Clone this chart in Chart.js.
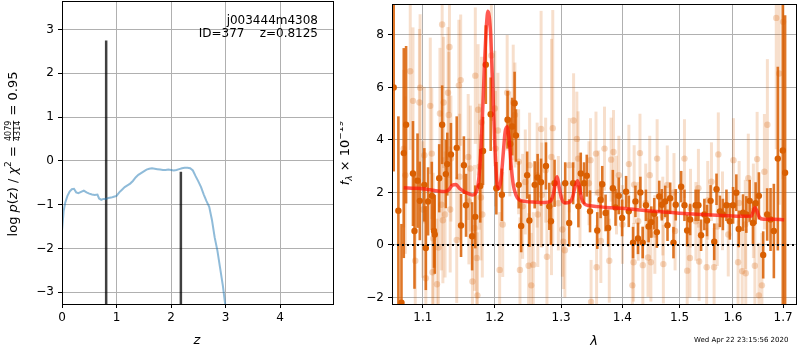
<!DOCTYPE html>
<html>
<head>
<meta charset="utf-8">
<script src="https://cdn.jsdelivr.net/npm/chart.js@4.4.0/dist/chart.umd.min.js"></script>
<style>
  html, body { margin: 0; padding: 0; background: #fff; }
  #wrap { position: relative; width: 800px; height: 350px; }
  #pz { position: absolute; left: 0; top: 0; }
  #sp { position: absolute; left: 340px; top: 0; }
</style>
</head>
<body>
<div id="wrap">
  <canvas id="pz" width="340" height="350"></canvas>
  <canvas id="sp" width="460" height="350"></canvas>
</div>
<script>
// left panel: log p(z)
const zGrid = [0, 0.03, 0.06, 0.1, 0.14, 0.18, 0.22, 0.26, 0.3, 0.35, 0.4, 0.45, 0.5, 0.55, 0.6, 0.65, 0.68, 0.72, 0.76, 0.8,
  0.85, 0.9, 0.95, 1.0, 1.05, 1.1, 1.15, 1.2, 1.25, 1.3, 1.35, 1.4, 1.45, 1.5, 1.55, 1.6, 1.65, 1.7, 1.75, 1.8,
  1.85, 1.9, 1.95, 2.0, 2.05, 2.1, 2.15, 2.2, 2.25, 2.3, 2.35, 2.4, 2.45, 2.5, 2.55, 2.6, 2.65, 2.7, 2.75, 2.8,
  2.85, 2.9, 2.95, 3.0];
const logPz = [-1.6, -1.15, -0.95, -0.8, -0.7, -0.65, -0.64, -0.72, -0.74, -0.71, -0.68, -0.72, -0.75, -0.77, -0.78, -0.77, -0.86, -0.89, -0.87, -0.87,
  -0.85, -0.84, -0.82, -0.8, -0.72, -0.66, -0.6, -0.56, -0.52, -0.46, -0.38, -0.32, -0.28, -0.24, -0.2, -0.18, -0.17, -0.18, -0.19, -0.2,
  -0.21, -0.21, -0.2, -0.21, -0.22, -0.21, -0.19, -0.17, -0.16, -0.16, -0.17, -0.22, -0.35, -0.47, -0.6, -0.77, -0.92, -1.05, -1.35, -1.75,
  -2.05, -2.45, -2.85, -3.35];
const zPeaks = [0.81, 2.18];
const zPeakTops = [2.75, -0.25];
const pzXTicks = [0, 1, 2, 3, 4];
const pzYTicks = [-3, -2, -1, 0, 1, 2, 3];

// right panel: spectrum (wavelength in micron, flux in 1e-19)
const darkWave = [1.062, 1.068, 1.072, 1.075, 1.078, 1.087, 1.089, 1.093, 1.096, 1.102, 1.104, 1.107, 1.112, 1.115, 1.116, 1.122, 1.126, 1.131, 1.133, 1.138,
  1.146, 1.152, 1.156, 1.159, 1.1675, 1.172, 1.179, 1.183, 1.187, 1.194, 1.2022, 1.2103, 1.2186, 1.2226, 1.2255, 1.229, 1.231, 1.2352, 1.2388, 1.2478,
  1.2512, 1.2592, 1.2637, 1.2689, 1.2765, 1.2816, 1.2842, 1.2898, 1.3065, 1.3128, 1.3191, 1.3275, 1.3313, 1.3366, 1.341, 1.3463, 1.3581, 1.3636, 1.3663, 1.3718,
  1.3761, 1.3839, 1.3884, 1.3939, 1.3995, 1.4062, 1.4108, 1.4181, 1.4222, 1.4266, 1.4307, 1.4347, 1.4404, 1.445, 1.4497, 1.4549, 1.4595, 1.4637, 1.4683, 1.4743,
  1.4784, 1.4832, 1.4891, 1.4932, 1.503, 1.509, 1.5139, 1.5193, 1.5296, 1.5346, 1.5396, 1.5457, 1.5507, 1.5574, 1.5643, 1.5686, 1.575, 1.5807, 1.5875, 1.594,
  1.6003, 1.6066, 1.6113, 1.6196, 1.6261, 1.6327, 1.6392, 1.6445, 1.651, 1.6596, 1.6676, 1.6744, 1.6811, 1.6892, 1.6994, 1.7041];
const darkFlux = [6.0, 1.3, -2.2, 3.5, 4.58, 2.72, 0.53, 2.45, 1.68, 2.29, -0.12, 1.66, 1.87, 0.53, 0.4, 2.54, 4.58, 2.7, 3.08, 3.45,
  3.7, 0.74, 3.04, 1.51, 0.33, 1.07, 2.25, 3.58, 6.87, 4.98, 2.16, 1.91, 4.77, 3.85, 4.51, 5.4, 4.17, 2.29, 0.72, 2.66,
  0.93, 2.29, 2.57, 2.39, 3.01, 1.47, 0.9, 2.35, 2.35, 0.84, 2.35, 1.47, 2.72, 2.35, 2.64, 1.28, 0.55, 1.72, 2.31, 1.22,
  0.65, 2.16, 1.43, 1.87, 1.03, 2.03, 1.28, 0.09, 1.66, 0.25, 2.0, 0.09, 1.51, 0.7, 0.87, 1.19, 0.49, 1.85, 1.53, 1.66,
  0.75, 1.78, 0.09, 1.53, 2.22, 1.51, 0.55, 0.97, 1.51, 1.51, 0.37, 1.16, 0.93, 1.68, 0.12, 2.12, 1.28, 1.16, 1.51, 0.9,
  1.51, 1.99, 0.61, 1.23, 1.16, 1.68, 0.84, 1.59, 1.87, -0.38, 1.16, 0.97, 0.53, 3.29, 3.6, 2.75];
const darkErr = [3.2, 3.6, 3.0, 4.0, 3.0, 2.0, 2.2, 1.8, 1.5, 1.4, 1.6, 1.3, 1.3, 1.4, 1.5, 1.3, 1.5, 1.3, 1.2, 1.2,
  1.2, 1.2, 1.1, 1.2, 1.3, 1.2, 1.4, 1.3, 1.5, 1.4, 1.0, 1.0, 1.1, 1.0, 1.1, 1.2, 1.0, 0.9, 1.0, 0.9,
  1.0, 0.9, 0.9, 0.9, 0.9, 0.9, 0.9, 0.9, 0.8, 0.9, 0.8, 0.8, 0.8, 0.8, 0.8, 0.8, 0.7, 0.7, 0.7, 0.7,
  0.7, 0.7, 0.7, 0.7, 0.7, 0.6, 0.6, 0.6, 0.6, 0.6, 0.6, 0.6, 0.6, 0.6, 0.6, 0.6, 0.6, 0.6, 0.6, 0.6,
  0.6, 0.6, 0.6, 0.6, 0.6, 0.6, 0.6, 0.6, 0.6, 0.6, 0.6, 0.6, 0.6, 0.6, 0.7, 0.6, 0.6, 0.6, 0.6, 0.7,
  0.7, 0.7, 0.7, 0.7, 0.7, 0.8, 0.8, 0.8, 0.9, 0.9, 1.0, 1.2, 1.8, 3.5, 6.5, 6.0];

const lightWave = [1.075, 1.077, 1.0834, 1.087, 1.09, 1.0955, 1.0964, 1.1, 1.102, 1.104, 1.11, 1.112, 1.113, 1.114, 1.119, 1.121, 1.123, 1.125, 1.126, 1.127,
  1.128, 1.13, 1.134, 1.135, 1.136, 1.137, 1.138, 1.146, 1.149, 1.15, 1.1515, 1.162, 1.163, 1.165, 1.168, 1.171, 1.172, 1.174, 1.175, 1.176,
  1.178, 1.18, 1.181, 1.182, 1.195, 1.2, 1.201, 1.2045, 1.207, 1.2115, 1.218, 1.222, 1.227, 1.2295, 1.235, 1.237, 1.241, 1.245, 1.25, 1.2515,
  1.254, 1.257, 1.263, 1.264, 1.269, 1.27, 1.276, 1.278, 1.285, 1.287, 1.2957, 1.302, 1.3036, 1.306, 1.313, 1.3198, 1.325, 1.327, 1.33, 1.3445,
  1.347, 1.348, 1.356, 1.357, 1.36, 1.364, 1.37, 1.378, 1.381, 1.385, 1.39, 1.394, 1.4, 1.411, 1.417, 1.419, 1.42, 1.427, 1.43, 1.435,
  1.44, 1.444, 1.447, 1.449, 1.456, 1.46, 1.47, 1.471, 1.478, 1.49, 1.492, 1.509, 1.514, 1.519, 1.52, 1.53, 1.5346, 1.536, 1.55, 1.552,
  1.559, 1.564, 1.57, 1.572, 1.58, 1.591, 1.601, 1.61, 1.612, 1.618, 1.624, 1.625, 1.63, 1.64, 1.643, 1.6475, 1.651, 1.657, 1.662, 1.668,
  1.686, 1.692, 1.7];
const lightFlux = [3.67, 2.66, 6.62, 5.49, -0.6, 5.43, 5.99, 1.35, 3.42, -1.27, 5.3, 3.48, -1.04, 0.25, -1.5, -0.1, 5.01, 1.53, 8.4, 0.94,
  5.43, 1.16, 5.8, 4.95, 7.54, 1.35, 3.29, 0.19, 6.08, 2.6, 6.28, 3.35, 1.66, 2.91, -1.39, 0.65, 6.45, -0.5, -1.92, 5.15,
  2.98, 1.81, 4.67, 1.16, 7.22, 5.2, 3.67, 4.36, -0.95, 0.78, 5.8, 3.85, 5.43, 4.95, 3.17, -0.95, 1.47, 2.4, -0.79, 3.04,
  -1.54, -0.75, 2.66, 1.16, 4.42, 1.9, 2.85, -0.45, 3.35, 4.45, 1.59, 0.59, 0.12, -0.2, 3.04, 4.74, 4.04, 3.29, 1.7, 2.35,
  3.23, -2.17, 3.48, -0.85, 2.0, 0.15, 3.67, -0.6, 3.25, 3.54, 1.9, 2.66, 0.78, 3.08, -1.54, -0.66, 2.3, 0.9, 3.5, -0.77,
  1.6, -0.48, 2.66, -0.66, 0.4, 3.29, 1.1, -0.73, 2.29, 2.0, 0.53, 3.29, -0.98, -0.5, 1.4, 0.9, 2.16, -0.63, -0.85, 1.7,
  2.41, -0.85, 0.7, 3.45, 1.3, 0.4, 3.23, -0.66, 1.6, -1.0, 0.78, -1.08, 2.54, 1.3, -0.79, 3.27, -1.92, -1.54, 2.79, 4.58,
  8.65, 6.53, 8.5];
const lightErr = [3.0, 3.0, 3.0, 2.8, 2.8, 2.8, 2.8, 2.6, 2.6, 2.6, 2.6, 2.5, 2.5, 2.5, 2.5, 2.5, 2.5, 2.5, 2.5, 2.4,
  2.5, 2.4, 2.5, 2.4, 2.5, 2.4, 2.4, 2.4, 2.5, 2.4, 2.5, 2.4, 2.4, 2.4, 2.4, 2.4, 2.6, 2.4, 2.4, 2.5,
  2.4, 2.4, 2.5, 2.4, 2.5, 2.2, 2.2, 2.2, 2.2, 2.0, 2.2, 2.0, 2.2, 2.0, 2.0, 2.0, 2.0, 2.0, 2.0, 2.0,
  2.0, 2.0, 2.0, 2.0, 4.5, 2.0, 2.0, 2.0, 4.5, 4.5, 1.8, 1.8, 1.8, 1.8, 1.8, 1.8, 1.8, 1.8, 1.8, 1.6,
  1.6, 1.6, 1.6, 1.6, 1.6, 1.6, 1.6, 1.6, 1.6, 1.6, 1.5, 1.5, 1.5, 1.5, 1.5, 1.5, 1.5, 1.5, 1.5, 1.5,
  1.5, 1.5, 1.5, 1.5, 1.5, 1.5, 1.5, 1.5, 1.5, 1.5, 1.5, 1.5, 1.5, 1.5, 1.5, 1.5, 1.5, 1.5, 1.5, 1.5,
  1.5, 1.5, 1.5, 1.6, 1.5, 1.6, 1.6, 1.6, 1.6, 1.7, 1.7, 1.7, 1.7, 1.8, 1.8, 1.8, 2.0, 2.0, 2.2, 2.5,
  5.0, 5.0, 6.0];

const modelWave = [1.075, 1.09, 1.1, 1.11, 1.12, 1.13, 1.135, 1.14, 1.145, 1.15, 1.157, 1.163, 1.168, 1.172, 1.176, 1.179, 1.182, 1.185, 1.188, 1.19,
  1.192, 1.194, 1.197, 1.2, 1.203, 1.206, 1.209, 1.212, 1.215, 1.218, 1.221, 1.224, 1.227, 1.231, 1.236, 1.245, 1.26, 1.275, 1.283, 1.288,
  1.292, 1.294, 1.297, 1.301, 1.306, 1.313, 1.318, 1.322, 1.326, 1.329, 1.333, 1.338, 1.345, 1.36, 1.38, 1.4, 1.43, 1.46, 1.5, 1.54,
  1.58, 1.62, 1.636, 1.64, 1.643, 1.647, 1.652, 1.66, 1.68, 1.702];
const modelFlux = [2.18, 2.16, 2.14, 2.1, 2.06, 2.04, 2.1, 2.28, 2.3, 2.15, 2.02, 1.95, 1.9, 1.95, 2.3, 3.2, 4.8, 6.8, 8.4, 8.9,
  8.7, 8.0, 6.0, 3.8, 2.4, 2.15, 2.5, 3.4, 4.3, 4.5, 4.0, 3.0, 2.3, 1.9, 1.72, 1.66, 1.63, 1.62, 1.66, 1.95,
  2.5, 2.6, 2.2, 1.75, 1.6, 1.62, 1.8, 2.2, 2.45, 2.2, 1.75, 1.55, 1.5, 1.46, 1.42, 1.4, 1.33, 1.27, 1.21, 1.16,
  1.12, 1.09, 1.1, 1.3, 1.43, 1.3, 1.05, 0.98, 0.98, 0.96];

const spXTicks = [1.1, 1.2, 1.3, 1.4, 1.5, 1.6, 1.7];
const spYTicks = [-2, 0, 2, 4, 6, 8];

const FONT = 'DejaVu Sans';
const GRID = '#b0b0b0';

function pts(xs, ys) {
  return xs.map((x, i) => ({x: x, y: ys[i]}));
}

// fixed tick positions like matplotlib
function fixTicks(list) {
  return function (scale) {
    scale.ticks = list.map(v => ({value: v}));
  };
}

// keep the plot box where it is: no extra room for the edge labels
function noPad(size, dim) {
  return function (s) {
    s[dim] = size;
    s.paddingTop = 0;
    s.paddingBottom = 0;
    s.paddingLeft = 0;
    s.paddingRight = 0;
  };
}

function fmtMinus(v, digits) {
  const s = digits ? v.toFixed(digits) : String(v);
  return s.replace('-', '\u2212');
}

// error bars drawn right before their dataset
const errorBars = {
  id: 'errorBars',
  beforeDatasetDraw(chart, args) {
    const ds = chart.data.datasets[args.index];
    if (!ds.errors) return;
    const ctx = chart.ctx, a = chart.chartArea;
    const xs = chart.scales.x, ys = chart.scales.y;
    ctx.save();
    ctx.beginPath();
    ctx.rect(a.left, a.top, a.right - a.left, a.bottom - a.top);
    ctx.clip();
    ctx.strokeStyle = ds.errorColor;
    ctx.lineWidth = ds.errorWidth;
    ds.data.forEach((p, i) => {
      const px = xs.getPixelForValue(p.x);
      ctx.beginPath();
      ctx.moveTo(px, ys.getPixelForValue(p.y - ds.errors[i]));
      ctx.lineTo(px, ys.getPixelForValue(p.y + ds.errors[i]));
      ctx.stroke();
    });
    ctx.restore();
  }
};

// black frame around the axes and hand-made labels
const frame = {
  id: 'frame',
  afterDraw(chart, args, opts) {
    const ctx = chart.ctx, a = chart.chartArea;
    ctx.save();
    ctx.strokeStyle = '#000';
    ctx.lineWidth = 1;
    ctx.strokeRect(Math.round(a.left) + 0.5, Math.round(a.top) + 0.5, Math.round(a.right - a.left), Math.round(a.bottom - a.top));
    ctx.fillStyle = '#000';
    if (opts.draw) opts.draw(ctx, a);
    ctx.restore();
  }
};

// draws a run of text pieces; each piece {t, size, italic, dy}
function drawRun(ctx, pieces, x, y, align) {
  let total = 0;
  pieces.forEach(p => {
    ctx.font = (p.italic ? 'italic ' : '') + p.size + 'px "' + FONT + '"';
    p.w = p.frac ? Math.max(ctx.measureText(p.num).width, ctx.measureText(p.den).width) + 2 : ctx.measureText(p.t).width;
    total += p.w;
  });
  let cx = align === 'center' ? x - total / 2 : x;
  pieces.forEach(p => {
    ctx.font = (p.italic ? 'italic ' : '') + p.size + 'px "' + FONT + '"';
    if (p.frac) {
      ctx.textAlign = 'center';
      ctx.fillText(p.num, cx + p.w / 2, y - 6);
      ctx.fillText(p.den, cx + p.w / 2, y + 3);
      ctx.fillRect(cx + 1, y - 4, p.w - 2, 0.8);
      ctx.textAlign = 'left';
    } else {
      ctx.textAlign = 'left';
      ctx.fillText(p.t, cx, y + (p.dy || 0));
    }
    cx += p.w;
  });
}

const tickFont = {family: FONT, size: 12};

new Chart(document.getElementById('pz').getContext('2d'), {
  type: 'scatter',
  data: {
    datasets: [
      {
        data: pts(zGrid, logPz),
        showLine: true,
        borderColor: 'rgba(31,119,180,0.5)',
        borderWidth: 2,
        pointRadius: 0,
        tension: 0
      },
      ...zPeaks.map((z, i) => ({
        data: [{x: z, y: -5}, {x: z, y: zPeakTops[i]}],
        showLine: true,
        borderColor: 'rgba(0,0,0,0.75)',
        borderWidth: 2.5,
        pointRadius: 0
      }))
    ]
  },
  options: {
    responsive: false,
    animation: false,
    layout: {padding: {top: 1, right: 7, left: 0, bottom: 0}},
    plugins: {
      legend: {display: false},
      tooltip: {enabled: false},
      frame: {
        draw(ctx, a) {
          ctx.textBaseline = 'alphabetic';
          ctx.font = '12px "' + FONT + '"';
          ctx.textAlign = 'right';
          ctx.fillText('j003444m4308', 318, 24);
          ctx.fillText('ID=377    z=0.8125', 318, 37);
          ctx.textAlign = 'center';
          ctx.font = 'italic 13px "' + FONT + '"';
          ctx.fillText('z', 197, 344);
          ctx.save();
          ctx.translate(17, 154);
          ctx.rotate(-Math.PI / 2);
          drawRun(ctx, [
            {t: 'log ', size: 13},
            {t: 'p', size: 13, italic: true},
            {t: '(', size: 13},
            {t: 'z', size: 13, italic: true},
            {t: ') / ', size: 13},
            {t: '\u03c7', size: 13, italic: true},
            {t: '2', size: 9, dy: -6},
            {t: ' = ', size: 13},
            {frac: true, num: '4079', den: '4314', size: 8},
            {t: ' = 0.95', size: 13}
          ], 0, 0, 'center');
          ctx.restore();
        }
      }
    },
    scales: {
      x: {
        type: 'linear',
        min: 0,
        max: 4.97,
        afterBuildTicks: fixTicks(pzXTicks),
        afterFit: noPad(46, 'height'),
        grid: {color: GRID, lineWidth: 1, tickColor: '#000', tickLength: 4},
        border: {display: false},
        ticks: {font: tickFont, color: '#000', padding: 3, maxRotation: 0, callback: v => fmtMinus(v)}
      },
      y: {
        type: 'linear',
        min: -3.27,
        max: 3.65,
        afterBuildTicks: fixTicks(pzYTicks),
        afterFit: noPad(62, 'width'),
        grid: {color: GRID, lineWidth: 1, tickColor: '#000', tickLength: 4},
        border: {display: false},
        ticks: {font: tickFont, color: '#000', padding: 4, callback: v => fmtMinus(v)}
      }
    }
  },
  plugins: [frame]
});

new Chart(document.getElementById('sp').getContext('2d'), {
  type: 'scatter',
  data: {
    datasets: [
      {
        data: pts(lightWave, lightFlux),
        errors: lightErr,
        errorColor: 'rgba(217,95,2,0.2)',
        errorWidth: 3,
        pointRadius: 3.2,
        pointBackgroundColor: 'rgba(217,95,2,0.25)',
        pointBorderWidth: 0,
        order: 4
      },
      {
        data: pts(darkWave, darkFlux),
        errors: darkErr,
        errorColor: 'rgba(217,95,2,0.85)',
        errorWidth: 2.6,
        pointRadius: 3.2,
        pointBackgroundColor: 'rgb(217,95,2)',
        pointBorderWidth: 0,
        order: 3
      },
      {
        data: pts(modelWave, modelFlux),
        showLine: true,
        borderColor: 'rgba(255,20,10,0.7)',
        borderWidth: 3.5,
        pointRadius: 0,
        cubicInterpolationMode: 'monotone',
        order: 2
      },
      {
        data: [{x: 1.0598, y: 0}, {x: 1.7267, y: 0}],
        showLine: true,
        borderColor: '#000',
        borderWidth: 2,
        borderDash: [2, 3],
        pointRadius: 0,
        order: 1
      }
    ]
  },
  options: {
    responsive: false,
    animation: false,
    layout: {padding: {top: 1, right: 2, left: 0, bottom: 0}},
    plugins: {
      legend: {display: false},
      tooltip: {enabled: false},
      frame: {
        draw(ctx, a) {
          ctx.textBaseline = 'alphabetic';
          ctx.textAlign = 'center';
          ctx.font = 'italic 13px "' + FONT + '"';
          ctx.fillText('\u03bb', 254, 345);
          ctx.font = '7px "' + FONT + '"';
          ctx.textAlign = 'left';
          ctx.fillText('Wed Apr 22 23:15:56 2020', 354, 342);
          ctx.save();
          ctx.translate(9, 153);
          ctx.rotate(-Math.PI / 2);
          drawRun(ctx, [
            {t: 'f', size: 13, italic: true},
            {t: '\u03bb', size: 9, italic: true, dy: 3},
            {t: ' \u00d7 10', size: 13},
            {t: '\u221219', size: 9, dy: -6}
          ], 0, 0, 'center');
          ctx.restore();
        }
      }
    },
    scales: {
      x: {
        type: 'logarithmic',
        min: 1.0598,
        max: 1.7267,
        afterBuildTicks: fixTicks(spXTicks),
        afterFit: noPad(46, 'height'),
        grid: {color: GRID, lineWidth: 1, tickColor: '#000', tickLength: 4},
        border: {display: false},
        ticks: {font: tickFont, color: '#000', padding: 3, maxRotation: 0, autoSkip: false, callback: v => Number(v).toFixed(1)}
      },
      y: {
        type: 'linear',
        min: -2.25,
        max: 9.18,
        afterBuildTicks: fixTicks(spYTicks),
        afterFit: noPad(52, 'width'),
        grid: {color: GRID, lineWidth: 1, tickColor: '#000', tickLength: 4},
        border: {display: false},
        ticks: {font: tickFont, color: '#000', padding: 4, callback: v => fmtMinus(v)}
      }
    }
  },
  plugins: [errorBars, frame]
});
</script>
</body>
</html>
